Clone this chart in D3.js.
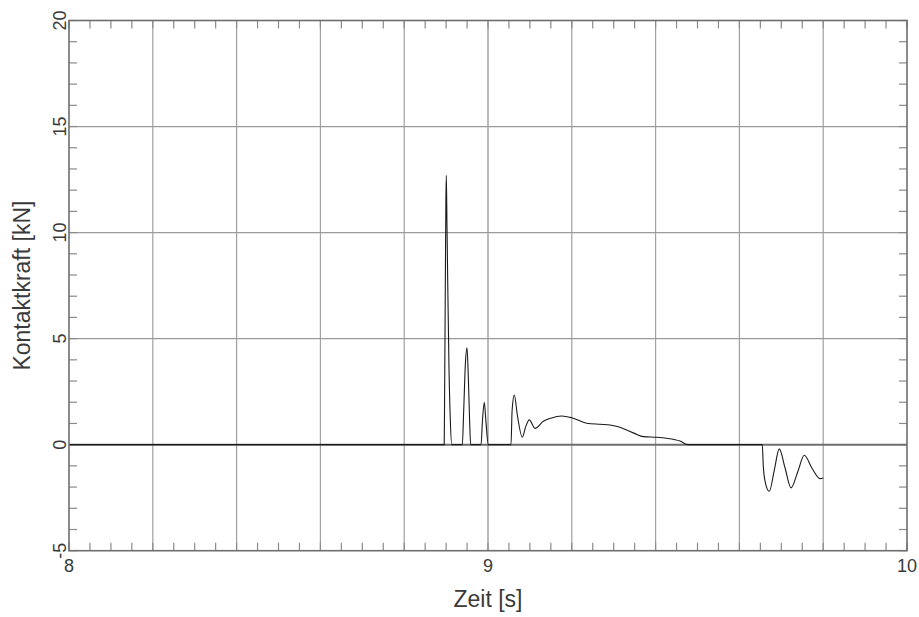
<!DOCTYPE html>
<html>
<head>
<meta charset="utf-8">
<script src="https://cdn.jsdelivr.net/npm/d3@7"></script>
<style>
  html, body { margin: 0; padding: 0; background: #fff; }
  svg { display: block; }
  text { font-family: "Liberation Sans", Arial, sans-serif; fill: #3a3a3a; }
</style>
</head>
<body>
<svg id="chart" width="919" height="617"></svg>
<script>
// ---- data ----
const timeValues = [
  8.0, 8.8955,
  8.8965, 8.898, 8.8995, 8.9005, 8.902, 8.904, 8.907, 8.910, 8.9135,
  8.9387, 8.942, 8.946, 8.9499, 8.953, 8.956, 8.9587,
  8.9833, 8.987, 8.9912, 8.995, 9.0007,
  9.0549, 9.0575, 9.0628, 9.070, 9.0819, 9.090, 9.0986, 9.1122, 9.1320, 9.150, 9.1759, 9.1998,
  9.2356, 9.2673, 9.2912, 9.3110, 9.3310, 9.3510, 9.3706, 9.4026, 9.4265, 9.4582, 9.4780,
  9.6546, 9.657, 9.662, 9.6714, 9.6833, 9.6952, 9.709, 9.7232, 9.739, 9.7549, 9.773, 9.7924, 9.8003
];
const forceValues = [
  0, 0,
  2.5, 7.0, 11.5, 12.7, 10.5, 7.5, 3.5, 1.2, 0,
  0, 1.6, 3.8, 4.57, 3.2, 1.2, 0,
  0, 1.2, 2.0, 1.1, 0,
  0, 1.6, 2.34, 1.4, 0.35, 0.85, 1.17, 0.77, 1.1, 1.25, 1.35, 1.27,
  1.01, 0.96, 0.93, 0.84, 0.69, 0.52, 0.38, 0.35, 0.3, 0.17, 0,
  0, -1.0, -1.8, -2.2, -1.2, -0.2, -1.1, -2.04, -1.3, -0.5, -1.1, -1.6, -1.57
];
const xLabelTicks = [8, 9, 10];
const yLabelTicks = [-5, 0, 5, 10, 15, 20];
const xGridTicks = [8.2, 8.4, 8.6, 8.8, 9.0, 9.2, 9.4, 9.6, 9.8];
const yGridTicks = [5, 10, 15];
const xLabel = "Zeit [s]";
const yLabel = "Kontaktkraft [kN]";

// ---- layout ----
const svg = d3.select("#chart");
const L = 69, R = 907, T = 20.5, B = 550.7;
const x = d3.scaleLinear().domain([8, 10]).range([L, R]);
const y = d3.scaleLinear().domain([-5, 20]).range([B, T]);

// grid
const g = svg.append("g");
g.selectAll("line.vg").data(xGridTicks).enter().append("line")
  .attr("x1", d => x(d)).attr("x2", d => x(d))
  .attr("y1", T).attr("y2", B)
  .attr("stroke", d => Math.abs(d - 9) < 1e-9 ? "#8c8c8c" : "#a0a0a0")
  .attr("stroke-width", 1.2);
g.selectAll("line.hg").data(yGridTicks).enter().append("line")
  .attr("x1", L).attr("x2", R)
  .attr("y1", d => y(d)).attr("y2", d => y(d))
  .attr("stroke", "#9a9a9a").attr("stroke-width", 1.2);

// minor ticks (inside, all four sides)
const tickLen = 8;
const xMinor = d3.range(0, 41).map(i => 8 + i * 0.05);
const yMinor = d3.range(0, 26).map(i => -5 + i);
const tk = svg.append("g").attr("stroke", "#8a8a8a").attr("stroke-width", 1.2);
xMinor.forEach(v => {
  tk.append("line").attr("x1", x(v)).attr("x2", x(v)).attr("y1", B).attr("y2", B - tickLen);
  tk.append("line").attr("x1", x(v)).attr("x2", x(v)).attr("y1", T).attr("y2", T + tickLen);
});
yMinor.forEach(v => {
  tk.append("line").attr("x1", L).attr("x2", L + tickLen).attr("y1", y(v)).attr("y2", y(v));
  tk.append("line").attr("x1", R).attr("x2", R - tickLen).attr("y1", y(v)).attr("y2", y(v));
});

// zero line
svg.append("line")
  .attr("x1", L).attr("x2", R).attr("y1", y(0)).attr("y2", y(0))
  .attr("stroke", "#6e6e6e").attr("stroke-width", 2);

// data line
const data = timeValues.map((t, i) => ({ t, f: forceValues[i] }));
const line = d3.line().x(d => x(d.t)).y(d => y(d.f)).curve(d3.curveMonotoneX);
svg.append("path").datum(data)
  .attr("d", line)
  .attr("fill", "none")
  .attr("stroke", "#1a1a1a")
  .attr("stroke-width", 1.1);

// frame
svg.append("rect")
  .attr("x", L).attr("y", T).attr("width", R - L).attr("height", B - T)
  .attr("fill", "none").attr("stroke", "#6e6e6e").attr("stroke-width", 1.6);

// x tick labels
svg.selectAll("text.xl").data(xLabelTicks).enter().append("text")
  .attr("x", d => x(d)).attr("y", 572)
  .attr("text-anchor", "middle")
  .attr("font-size", 18)
  .text(d => d);

// y tick labels (rotated)
svg.selectAll("text.yl").data(yLabelTicks).enter().append("text")
  .attr("transform", d => `translate(66,${y(d)}) rotate(-90)`)
  .attr("text-anchor", "middle")
  .attr("font-size", 18)
  .text(d => d);

// axis titles
svg.append("text")
  .attr("x", (L + R) / 2).attr("y", 607)
  .attr("text-anchor", "middle")
  .attr("font-size", 23)
  .text(xLabel);
svg.append("text")
  .attr("transform", `translate(30,${(T + B) / 2}) rotate(-90)`)
  .attr("text-anchor", "middle")
  .attr("font-size", 23)
  .text(yLabel);
</script>
</body>
</html>
